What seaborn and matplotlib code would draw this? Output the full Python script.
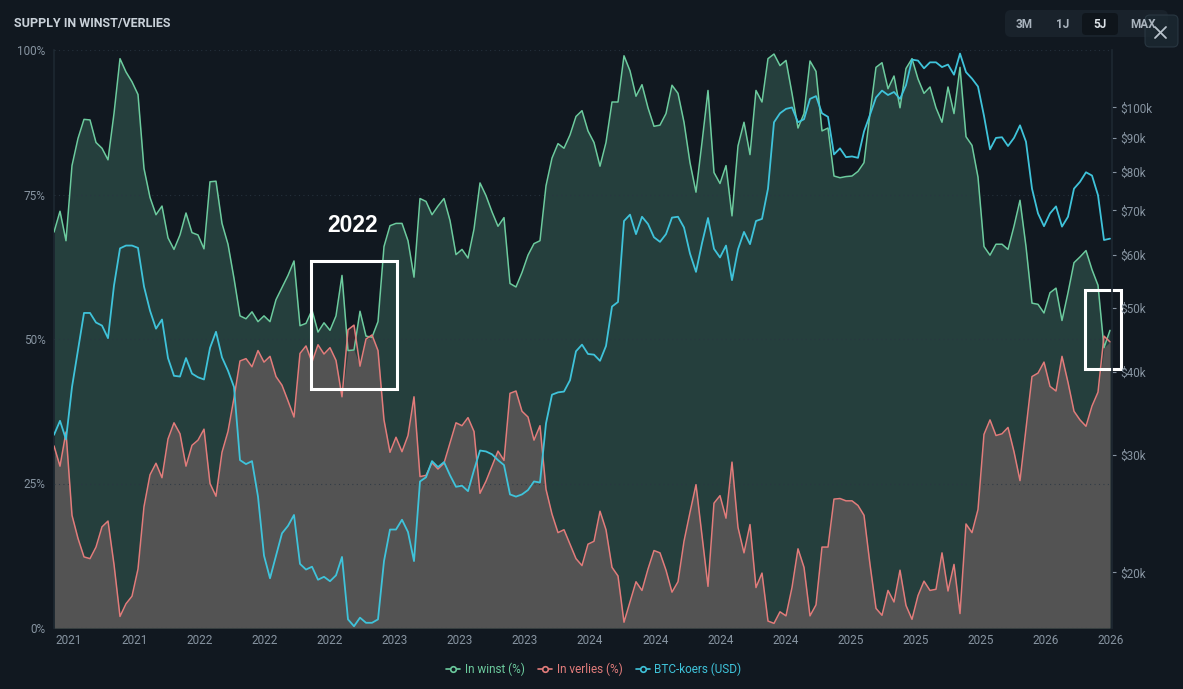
import matplotlib
matplotlib.use("Agg")
import matplotlib.pyplot as plt
from matplotlib.lines import Line2D
from matplotlib.patches import FancyBboxPatch, Rectangle
from matplotlib.ticker import FixedLocator, NullLocator
from matplotlib.transforms import IdentityTransform
import numpy as np
import pandas as pd
import seaborn as sns

# supply in profit / loss (%) and BTC price (k USD), one value per sample
in_winst = [
    68.5, 72.1, 67, 80, 84.7, 88, 87.9, 84, 83, 81, 89, 98.5, 96.2, 94.5, 92.3,
    79.5, 74.5, 71.5, 73, 67.5, 65.5, 68, 71.8, 68.4, 68, 65.6, 77.2, 77.3, 70,
    66.4, 60.5, 54, 53.5, 54.7, 53, 54, 53, 56.8, 58.9, 61, 63.5, 52.3, 52.7, 55,
    51.2,
    52.8, 51.5, 54, 61, 48, 48.1, 54.8, 50.5, 50.3, 53, 66, 69.6, 70, 70, 67,
    60.7, 74.3, 73.8, 71.5, 73, 74.3, 70.5, 64.6, 65.5, 64, 69, 77, 74.8, 72,
    69.5, 71, 59.6, 59, 61.5, 64.5, 66.5, 67, 76.5, 81.3, 83.8, 83, 85.3, 88.5,
    89.5, 86, 84, 79.9, 84, 91, 91, 99, 96.4, 92, 94, 90, 86.8, 87, 89, 93.9,
    92.5, 87.5, 80.5, 75.4, 84, 93, 78.8, 76.9, 80, 71.3, 83.4, 87.5, 81.9, 93,
    91, 98.5, 99.3, 97.3, 98.2, 92.5, 86.5, 89, 98.1, 96.3, 86, 86.5, 78.2, 77.9,
    78.1, 78.2, 79, 80.5, 89, 97, 97.8, 93.3, 95.5, 90, 96.8, 98.5, 95, 92.5,
    93.6, 90, 87.5, 93.6, 89, 97, 85, 83.5, 78, 66, 64.5, 66.4, 66.4, 65.5, 69.5,
    74, 66, 56.2, 56, 54.5, 58, 58.8, 53.2, 58, 63.2, 64.2, 65.3, 62, 59.3, 48.5,
    51.5,
]
in_verlies = [
    31.5, 28, 33.9, 19.5, 15.5, 12.3, 12, 14, 17.5, 18.5, 11, 2, 4.2, 5.5, 10.2,
    21, 26.5, 28.5, 26, 32.7, 35.5, 33.6, 28, 31.6, 32.5, 34.4, 25, 22.8, 30.4,
    34, 39.8, 46.2, 46.6, 45.2, 48, 46, 47, 43.5, 42, 39.3, 36.5, 47.5, 48.8, 46,
    49,
    47.4, 48.5, 46.3, 40, 51.6, 52.4, 45.3, 50, 50.7, 48, 36, 30.4, 33, 30.5,
    33.3, 40, 26.2, 26.4, 28.6, 27.5, 28.5, 32, 35.5, 35, 36.4, 34, 23.3, 25.4,
    28, 30.6, 29, 40.6, 41, 37.5, 36.5, 32.5, 35, 24, 19.7, 16.5, 17, 14.5, 12,
    10.8, 14.5, 15, 20.2, 17, 10.5, 9, 1, 4.5, 8, 6.5, 10.2, 13.4, 13, 10, 6.2,
    8, 15, 20, 24.8, 16, 7.2, 21.6, 22.9, 19, 28.7, 17.4, 13, 17.9, 7, 9.5, 1.2,
    0.8, 2.8, 2.1, 7, 13.7, 10.5, 2.1, 4, 14, 14, 22.3, 22.4,
    22, 22, 21.2, 19.5, 11, 3.4, 2.2, 6.5, 4.5, 10, 3.9, 1.5, 5.6, 8.1, 6.5, 6.7,
    13, 6.4, 11, 2.5, 18, 16.5, 20.5, 33.5, 36, 33.3, 33.6, 34.7, 30.5, 25.5,
    34.5, 43.5, 44.1, 46, 41.8, 41, 47, 42.5, 37.5, 36, 34.9, 38.4, 40.8, 50.5,
    49.5,
]
btc_koers_k = [
    32.2, 33.8, 31.7, 38, 43.2, 49.1, 49.1, 47.5, 47, 45, 54, 61.4, 62, 62, 61.5,
    53.8, 49.5, 46.5, 48, 42, 39.5, 39.4, 42, 39.8, 39.3, 39, 43.5, 46, 42.1,
    40.2, 38, 29.5, 29.1, 29.4, 26, 21.2, 19.6, 21.2, 22.9, 23.5, 24.4, 20.6,
    20.2, 20.4, 19.5,
    19.7, 19.4, 19.8, 21.1, 17, 16.6, 17.1, 16.8, 16.8, 17, 20.8, 23.2, 23.2, 24,
    23, 20.8, 27.4, 27.8, 29.4, 28.8, 29.3, 28, 26.9, 27, 26.5, 28.5, 30.5, 30.4,
    30.1, 29.5, 29, 26.2, 26, 26.2, 26.6, 27.4, 27.3, 33.5, 37, 37.3, 37.4, 38.9,
    43,
    44, 42.6, 42.5, 41.6, 43.8, 50.2, 51, 67.5, 69, 64.5, 68.5, 66.8, 63.8, 62.8,
    64.5, 68.3, 68.5, 66, 60.3, 56.6, 62.5, 68.2, 61.3, 59.5, 62, 55, 61.2, 65,
    62.3, 67.5, 68, 75.5, 95, 98, 99.5, 100, 95, 96, 103, 104, 98, 96.8, 85,
    86.8,
    84.2, 84.4, 84, 92, 97.5, 103.5, 106, 104.4, 105.5, 103, 108, 118, 117.6,
    114.5, 116.9, 116.9, 115, 116, 112, 120.5, 113, 110.5, 107.5, 97.1, 86.5, 90,
    90.2, 87.5, 90, 94, 88.8, 75.5, 69.3, 66.3, 69.3, 71, 66.2, 68.5, 75.5, 77.3,
    79.9, 79, 73.8, 63.2, 63.5,
]
x_labels = ["2021", "2021", "2022", "2022", "2022", "2023", "2023", "2023",
            "2024", "2024", "2024", "2024", "2025", "2025", "2025", "2026", "2026"]
pct_ticks = [0, 25, 50, 75, 100]
price_ticks_k = [20, 30, 40, 50, 60, 70, 80, 90, 100]
ranges = ["3M", "1J", "5J", "MAX"]
active_range = "5J"
series_labels = ["In winst (%)", "In verlies (%)", "BTC-koers (USD)"]

BG = "#111820"
GREEN = "#6ccb9e"
RED = "#e27c7b"
BLUE = "#3fc3da"
GREEN_FILL = "#253f3d"
GREY_FILL = "#535353"
MAROON = "#3a2b32"
TICK = "#8794a1"
W, H = 1183, 689

sns.set_theme(style="dark", rc={"axes.facecolor": BG, "figure.facecolor": BG,
                                "axes.edgecolor": "#1d2731", "grid.color": "#2a3642"})
plt.rcParams["font.family"] = ["Roboto", "DejaVu Sans"]

df = pd.DataFrame({
    "t": np.arange(len(in_winst)),
    "winst": in_winst,
    "verlies": in_verlies,
    "btc": np.array(btc_koers_k) * 1000,
})

fig = plt.figure(figsize=(W / 100, H / 100), dpi=100)
ax = fig.add_axes([54 / W, 1 - 628 / H, 1058 / W, 578 / H])
ax.set_facecolor(BG)

t = df["t"].to_numpy()
g = df["winst"].to_numpy()
r = df["verlies"].to_numpy()
ax.fill_between(t, 0, g, color=GREEN_FILL, lw=0, zorder=1)
ax.fill_between(t, 0, np.minimum(g, r), color=GREY_FILL, lw=0, zorder=2)
ax.fill_between(t, g, r, where=r > g, interpolate=True, color=MAROON, lw=0, zorder=2)
sns.lineplot(data=df, x="t", y="winst", ax=ax, color=GREEN, lw=1.1, zorder=3)
sns.lineplot(data=df, x="t", y="verlies", ax=ax, color=RED, lw=1.1, zorder=4)

ax.set_xlim(0, 1058 / 6)
ax.set_ylim(0, 100)
ax.set_yticks(pct_ticks)
ax.set_yticklabels([f"{p}%" for p in pct_ticks])
ax.set_xticks(np.linspace(2.5, 176.17, len(x_labels)))
ax.set_xticklabels(x_labels)
ax.set_xlabel("")
ax.set_ylabel("")
ax.set_axisbelow(False)
ax.grid(axis="y", color="#2a3642", lw=0.8, ls=(0, (1, 3)), alpha=0.8)
ax.grid(axis="x", visible=False)
ax.tick_params(axis="y", colors=TICK, labelsize=8.5, length=0, pad=6)
ax.tick_params(axis="x", colors=TICK, labelsize=8.5, length=0, pad=4)
for side in ["top", "bottom", "right"]:
    ax.spines[side].set_visible(False)
ax.spines["left"].set_color("#1d2731")

ax2 = ax.twinx()
ax2.patch.set_visible(False)
sns.lineplot(data=df, x="t", y="btc", ax=ax2, color=BLUE, lw=1.3, zorder=5)
ax2.set_yscale("log")
ax2.set_ylim(16500, 122000)
ax2.yaxis.set_major_locator(FixedLocator([p * 1000 for p in price_ticks_k]))
ax2.yaxis.set_minor_locator(NullLocator())
ax2.set_yticklabels([f"${p}k" for p in price_ticks_k])
ax2.set_xlabel("")
ax2.set_ylabel("")
ax2.grid(False)
ax2.tick_params(axis="y", colors=TICK, labelsize=8.5, length=3, width=0.8, pad=3)
for tl in ax2.yaxis.get_ticklines():
    tl.set_color("#34414d")
for side in ["top", "bottom", "left"]:
    ax2.spines[side].set_visible(False)
ax2.spines["right"].set_color("#1d2731")

# annotation boxes
ax.add_patch(Rectangle((42.83, 41.35), 14.34, 22.15, fill=False, ec="white",
                       lw=2.2, zorder=10, clip_on=False))
ax.add_patch(Rectangle((171.83, 44.8), 6.0, 13.7, fill=False, ec="white",
                       lw=2.2, zorder=10, clip_on=False))
ax.text(49.7, 69.7, "2022", color="white", fontsize=16.5, fontweight="bold",
        family=["Liberation Sans", "DejaVu Sans"], ha="center", va="center",
        zorder=10)

# header
fig.text(14 / W, 1 - 23 / H, "SUPPLY IN WINST/VERLIES", fontsize=9,
         fontweight="bold", color="#c9d1d9", va="center", ha="left")

pix = IdentityTransform()
fig.add_artist(FancyBboxPatch((1005, H - 37), 163, 27,
                              boxstyle="round,pad=0,rounding_size=6",
                              fc="#19222b", ec="none", transform=pix))
fig.add_artist(FancyBboxPatch((1082, H - 35), 36, 22,
                              boxstyle="round,pad=0,rounding_size=4",
                              fc="#0f151b", ec="none", transform=pix))
for label, cx in zip(ranges, [1024, 1063, 1100, 1143]):
    fig.text(cx / W, 1 - 24 / H, label, fontsize=8.5, fontweight="bold",
             color="#dde3e8" if label == active_range else "#aab4be",
             ha="center", va="center")
fig.add_artist(FancyBboxPatch((1145, H - 47), 33, 32,
                              boxstyle="round,pad=0,rounding_size=5",
                              fc="#1c2a33", ec="#2f3e49", lw=0.8, alpha=0.75,
                              transform=pix))
fig.add_artist(Line2D([1155, 1166], [H - 27, H - 38], color="#b9c3cc", lw=1.3,
                      transform=pix))
fig.add_artist(Line2D([1155, 1166], [H - 38, H - 27], color="#b9c3cc", lw=1.3,
                      transform=pix))

handles = [Line2D([], [], color=c, lw=1.2, marker="o", markersize=4,
                  markerfacecolor=BG, markeredgewidth=1.2)
           for c in [GREEN, RED, BLUE]]
fig.legend(handles, series_labels, loc="center", bbox_to_anchor=(0.502, 1 - 669 / H),
           ncol=3, frameon=False, fontsize=8.5, handlelength=1.2, handletextpad=0.4,
           columnspacing=1.1, labelcolor="linecolor")

fig.savefig("out.png", dpi=100, facecolor=BG)
